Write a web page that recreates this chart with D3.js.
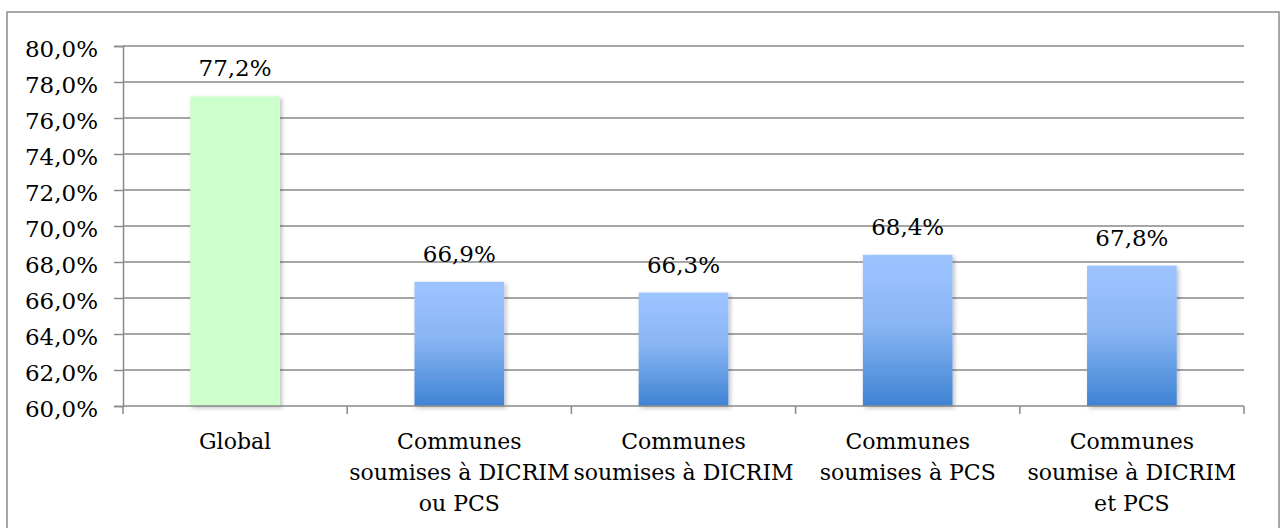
<!DOCTYPE html>
<html>
<head>
<meta charset="utf-8">
<script src="https://cdn.jsdelivr.net/npm/d3@7"></script>
<style>
  html, body { margin: 0; padding: 0; background: #fff; }
  svg { display: block; }
  text { font-family: "DejaVu Serif", serif; fill: #000; }
</style>
</head>
<body>
<svg id="chart" width="1282" height="528"></svg>
<script>
const categories = [
  ["Global"],
  ["Communes", "soumises à DICRIM", "ou PCS"],
  ["Communes", "soumises à DICRIM"],
  ["Communes", "soumises à PCS"],
  ["Communes", "soumise à DICRIM", "et PCS"]
];
const values = [77.2, 66.9, 66.3, 68.4, 67.8];
const yTicks = [60, 62, 64, 66, 68, 70, 72, 74, 76, 78, 80];

const margin = { left: 123, right: 1244, top: 46, bottom: 406 };
const svg = d3.select("#chart");

const defs = svg.append("defs");
const grad = defs.append("linearGradient").attr("id", "blueGrad")
  .attr("x1", 0).attr("y1", 0).attr("x2", 0).attr("y2", 1);
grad.append("stop").attr("offset", "0%").attr("stop-color", "#9dc4ff");
grad.append("stop").attr("offset", "45%").attr("stop-color", "#8ab6f4");
grad.append("stop").attr("offset", "100%").attr("stop-color", "#3f83d3");
const filt = defs.append("filter").attr("id", "shadow")
  .attr("x", "-20%").attr("y", "-10%").attr("width", "150%").attr("height", "130%");
filt.append("feDropShadow").attr("dx", 2).attr("dy", 2).attr("stdDeviation", 2)
  .attr("flood-color", "#000").attr("flood-opacity", 0.25);

// outer border
svg.append("rect").attr("x", 7).attr("y", 12).attr("width", 1272).attr("height", 530)
  .attr("fill", "none").attr("stroke", "#8c8c8c").attr("stroke-width", 1.5);

const x = d3.scaleBand().domain(d3.range(categories.length))
  .range([margin.left, margin.right]).paddingInner(0.6).paddingOuter(0.3);
const xOuter = d3.scaleBand().domain(d3.range(categories.length))
  .range([margin.left, margin.right]).padding(0);
const y = d3.scaleLinear().domain([60, 80]).range([margin.bottom, margin.top]);

const fmt = v => d3.format(".1f")(v).replace(".", ",") + "%";

// gridlines
svg.append("g").selectAll("line").data(yTicks.filter(t => t > 60)).join("line")
  .attr("x1", margin.left).attr("x2", margin.right)
  .attr("y1", d => y(d)).attr("y2", d => y(d))
  .attr("stroke", "#898989").attr("stroke-width", 1.5);

// y axis
const yAxis = d3.axisLeft(y).tickValues(yTicks).tickFormat(fmt).tickSize(9).tickPadding(16);
const gy = svg.append("g").attr("transform", `translate(${margin.left},0)`).call(yAxis);
gy.select(".domain").attr("stroke", "#898989").attr("stroke-width", 1.5);
gy.selectAll(".tick line").attr("stroke", "#898989").attr("stroke-width", 1.5);
gy.selectAll(".tick text").attr("font-family", "DejaVu Serif").attr("font-size", 23)
  .attr("fill", "#000").attr("dy", "0.46em");

// bars
svg.append("g").selectAll("rect").data(values).join("rect")
  .attr("x", (d, i) => x(i)).attr("width", x.bandwidth())
  .attr("y", d => y(d)).attr("height", d => y(60) - y(d))
  .attr("fill", (d, i) => i === 0 ? "#ccffcc" : "url(#blueGrad)")
  .attr("filter", "url(#shadow)");

// x axis line and ticks
const bounds = d3.range(categories.length + 1).map(i => i < categories.length ? xOuter(i) : margin.right);
svg.append("line").attr("x1", margin.left).attr("x2", margin.right)
  .attr("y1", y(60)).attr("y2", y(60)).attr("stroke", "#898989").attr("stroke-width", 1.5);
svg.append("g").selectAll("line").data(bounds).join("line")
  .attr("x1", d => d).attr("x2", d => d).attr("y1", y(60)).attr("y2", y(60) + 8)
  .attr("stroke", "#898989").attr("stroke-width", 1.5);

// value labels
svg.append("g").selectAll("text").data(values).join("text")
  .attr("x", (d, i) => x(i) + x.bandwidth() / 2).attr("y", d => y(d) - 20)
  .attr("text-anchor", "middle").attr("font-size", 23).text(d => fmt(d));

// category labels
const cl = svg.append("g").selectAll("text").data(categories).join("text")
  .attr("text-anchor", "middle").attr("font-size", 22)
  .attr("x", (d, i) => xOuter(i) + xOuter.bandwidth() / 2).attr("y", 449);
cl.selectAll("tspan").data((d, i) => d.map(s => ({ s, cx: xOuter(i) + xOuter.bandwidth() / 2 })))
  .join("tspan").attr("x", d => d.cx).attr("dy", (d, j) => j === 0 ? 0 : 31).text(d => d.s);
</script>
</body>
</html>
